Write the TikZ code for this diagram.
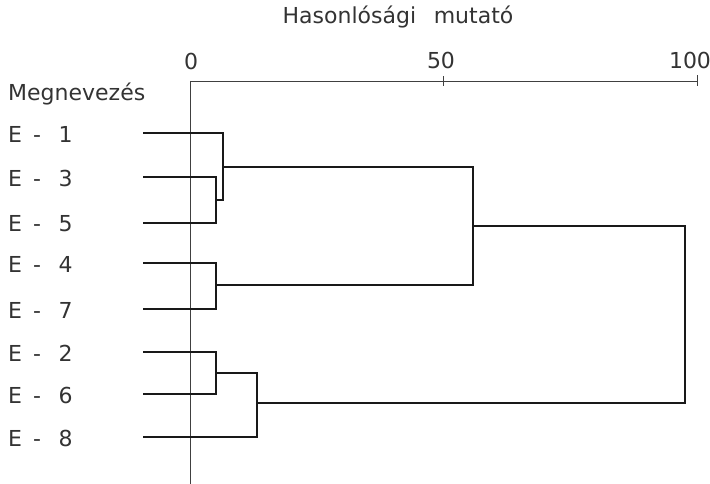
\documentclass[tikz,border=0pt]{standalone}
\usepackage{fontspec}
\setmainfont{DejaVu Sans}
\begin{document}
\begin{tikzpicture}[x=1pt,y=-1pt,
  lbl/.style={font=\fontsize{22}{25}\selectfont, text=black!80, inner sep=0pt},
  axisline/.style={line width=0.7pt, draw=black!75},
  branch/.style={line width=2pt, draw=black!90, line join=miter}]
\useasboundingbox (0,0) rectangle (710,484);
% title and axis
\node[lbl] (title) at (398,17) {Hasonlósági\hspace{0.8em}mutató};
\coordinate (a0) at (190,81);
\coordinate (a50) at (443,81);
\coordinate (a100) at (697,81);
\coordinate (abot) at (190,484);
\draw[axisline] (a0) -- (a100);
\draw[axisline] (a0) -- (abot);
\draw[axisline] ([yshift=-5pt]a50) -- ([yshift=5pt]a50);
\draw[axisline] ([yshift=-5pt]a100) -- ([yshift=6pt]a100);
\node[lbl] (t0) at (191,61) {0};
\node[lbl] (t50) at (441,60) {50};
\node[lbl] (t100) at (690,60) {100};
\node[lbl, anchor=west] (head) at (8,94) {Megnevezés};
% leaf labels
\foreach \n/\y in {1/133,3/177,5/223,4/263,7/309,2/352,6/394,8/437}{
  \node[lbl, anchor=west] (l\n) at (8,\y+1) {E\hspace{0.5em}-\hspace{0.8em}\n};
  \coordinate (s\n) at (143,\y);
}
% join points
\coordinate (m35) at (216,200);
\coordinate (m135) at (223,167);
\coordinate (m47) at (216,285);
\coordinate (mtop) at (473,226);
\coordinate (m26) at (216,373);
\coordinate (m268) at (257,403);
\coordinate (root) at (685,314);
% branches
\draw[branch] (s3) -| (m35) |- (s5);
\draw[branch] (s1) -| (m135) |- (m35);
\draw[branch] (s4) -| (m47) |- (s7);
\draw[branch] (m135) -| (mtop) |- (m47);
\draw[branch] (s2) -| (m26) |- (s6);
\draw[branch] (m26) -| (m268) |- (s8);
\draw[branch] (mtop) -| (root) |- (m268);
\end{tikzpicture}
\end{document}
